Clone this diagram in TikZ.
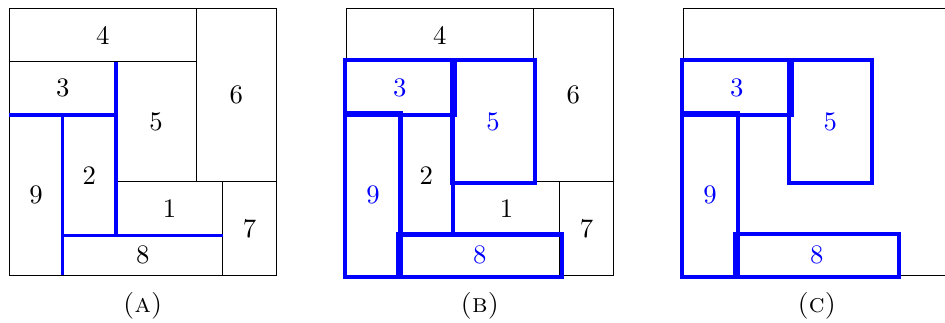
\documentclass[tikz,border=0pt]{standalone}
\usepackage{xcolor}
\definecolor{bl}{RGB}{0,0,255}
\begin{document}
\begin{tikzpicture}[x=10pt,y=10pt,
  blk/.style={line width=0.4pt, draw=black},
  bline/.style={line width=1.25pt, draw=bl},
  brect/.style={line width=1.5pt, draw=bl},
  num/.style={inner sep=0pt},
  bnum/.style={num, text=bl},
  captext/.style={anchor=base, inner sep=0pt}]
\useasboundingbox (-0.348,-1.76) rectangle (35.04,10.31);
% ---------- panel A ----------
\begin{scope}[shift={(0,0)}]
  \draw[blk] (0,0) rectangle (10,10);
  \draw[blk] (0,8) -- (7,8);
  \draw[blk] (7,10) -- (7,3.5);
  \draw[blk] (4,3.5) -- (10,3.5);
  \draw[blk] (8,3.5) -- (8,0);
  \draw[bline] (0,6) -- (4,6);
  \draw[bline] (4,8) -- (4,1.5);
  \draw[bline] (2,6) -- (2,0);
  \draw[bline] (2,1.5) -- (8,1.5);
  \node[num] (a4) at (3.5,9) {4};
  \node[num] (a6) at (8.5,6.75) {6};
  \node[num] (a3) at (2,7) {3};
  \node[num] (a5) at (5.5,5.75) {5};
  \node[num] (a2) at (3,3.75) {2};
  \node[num] (a9) at (1,3) {9};
  \node[num] (a1) at (6,2.5) {1};
  \node[num] (a8) at (5,0.75) {8};
  \node[num] (a7) at (9,1.75) {7};
  \node[captext] (capA) at (5,-1.41) {\textsc{(a)}};
\end{scope}
% ---------- panel B ----------
\begin{scope}[shift={(12.62,0)}]
  \draw[blk] (0,0) rectangle (10,10);
  \draw[blk] (0,8) -- (7,8);
  \draw[blk] (7,10) -- (7,3.5);
  \draw[blk] (4,3.5) -- (10,3.5);
  \draw[blk] (8,3.5) -- (8,0);
  \draw[bline] (0,6) -- (4,6);
  \draw[bline] (4,8) -- (4,1.5);
  \draw[bline] (2,6) -- (2,0);
  \draw[bline] (2,1.5) -- (8,1.5);
  \draw[brect] (-0.06,6) rectangle (4.06,8.06);
  \draw[brect] (3.94,3.44) rectangle (7.06,8.06);
  \draw[brect] (-0.06,-0.06) rectangle (2.06,6.06);
  \draw[brect] (1.94,-0.06) rectangle (8.06,1.56);
  \node[num] (b4) at (3.5,9) {4};
  \node[num] (b6) at (8.5,6.75) {6};
  \node[bnum] (b3) at (2,7) {3};
  \node[bnum] (b5) at (5.5,5.75) {5};
  \node[num] (b2) at (3,3.75) {2};
  \node[bnum] (b9) at (1,3) {9};
  \node[num] (b1) at (6,2.5) {1};
  \node[bnum] (b8) at (5,0.75) {8};
  \node[num] (b7) at (9,1.75) {7};
  \node[captext] (capB) at (5,-1.41) {\textsc{(b)}};
\end{scope}
% ---------- panel C ----------
\begin{scope}[shift={(25.24,0)}]
  \draw[blk] (0,0) rectangle (10,10);
  \draw[brect] (-0.06,6) rectangle (4.06,8.06);
  \draw[brect] (3.94,3.44) rectangle (7.06,8.06);
  \draw[brect] (-0.06,-0.06) rectangle (2.06,6.06);
  \draw[brect] (1.94,-0.06) rectangle (8.06,1.56);
  \node[bnum] (c3) at (2,7) {3};
  \node[bnum] (c5) at (5.5,5.75) {5};
  \node[bnum] (c9) at (1,3) {9};
  \node[bnum] (c8) at (5,0.75) {8};
  \node[captext] (capC) at (5,-1.41) {\textsc{(c)}};
\end{scope}
\end{tikzpicture}
\end{document}
